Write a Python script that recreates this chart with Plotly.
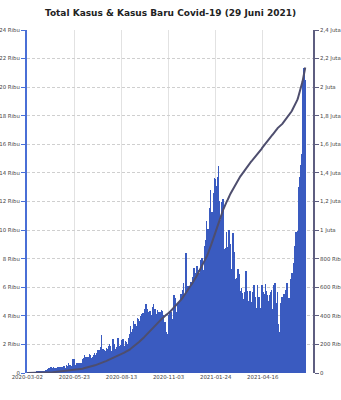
import numpy as np
import pandas as pd
import plotly.graph_objects as go

start_date = "2020-03-02"
daily_mar20 = [2,0,0,0,0,2,2,13,0,7,15,35,27,21,17,38,55,82,60,81,64,65,106,107,104,153,109,130,129,114]
daily_apr20 = [149,113,196,106,181,218,247,218,337,219,330,399,316,282,297,380,407,325,327,185,375,283,357,436,396,275,214,415,260,347]
daily_may20 = [433,292,349,395,484,367,338,336,533,387,233,484,689,568,490,529,489,496,486,693,973,634,949,526,479,415,686,687,678,557,700]
daily_jun20 = [467,609,684,585,703,993,672,847,1043,1241,979,1111,1014,857,1017,1106,1031,1331,1041,1226,862,954,1051,1113,1178,1240,1385,1198,1082,1293]
daily_jul20 = [1385,1624,1301,1447,1607,1209,1268,1853,2657,1611,1671,1681,1282,1591,1522,1574,1462,1752,1639,1693,1655,1882,2040,1761,1868,1492,1525,1748,2381,1904,2040]
daily_aug20 = [1560,1519,1679,1815,1815,1882,2473,2277,1893,1687,1693,1942,2098,2307,2081,2345,1821,1673,1902,2266,2197,2090,2037,1877,2447,2306,2719,2719,3308,2858,2743]
daily_sep20 = [2775,3075,3622,3269,3128,3444,2880,3046,3307,3861,3737,3806,3636,3141,3507,3963,3635,4106,4168,3989,4176,3989,4465,4634,4823,4494,3874,4002,3509,4284]
daily_oct20 = [4174,4317,4007,3992,4056,4602,4538,4850,4094,4497,4497,3267,3906,4127,4411,4301,4301,3373,3602,4069,4267,4432,4369,4070,3732,3222,3520,3565,3143,2897,2696]
daily_nov20 = [2143,2618,2973,4065,4369,4262,4262,3880,2853,3779,3770,5444,5444,5272,3807,3535,3807,4265,4798,4792,4998,4360,4442,4192,5534,4917,5828,5418,6267,4617]
daily_dec20 = [5092,5533,8369,5803,6027,6089,5754,6058,6033,6058,6310,6388,5681,5489,6120,6725,7354,6689,6982,6848,6743,6347,7514,7199,6982,6984,5854,6528,7903,8002,8074]
daily_jan21 = [7585,7203,6877,6753,8854,8367,9321,10617,10046,9640,8692,10047,11278,11557,12818,11287,10624,9086,11287,12568,11703,13632,13589,11788,9994,13094,11948,13695,14518,12001,10994]
daily_feb21 = [9883,10740,11984,11434,10682,12156,10827,8242,8700,8776,8435,9869,8844,6765,6462,10029,9687,9039,8054,7300,6855,6997,9775,9146,8493,8232,5560,6607]
daily_mar21 = [5712,6680,6808,7264,6971,6894,5767,4855,5633,5926,5144,5589,5190,4714,5366,5702,6064,7128,6279,5722,4877,4396,5043,5227,5712,5331,4966,3912,4570,5656,5937]
daily_apr21 = [6142,4913,5324,4127,3965,4549,6177,4685,5325,4844,4101,4071,4582,5656,6177,5656,4690,3621,4952,5549,6243,5720,5436,5372,4402,4656,5017,5241,5444,5657]
daily_may21 = [5783,4512,3737,4369,5285,6130,6294,5656,4891,4208,4608,5647,3448,2633,2385,2860,3080,4871,5059,5296,5303,4916,5520,3361,4952,5797,5907,6278,5862,5235,4824]
daily_jun21 = [4824,5246,5353,6594,6594,6993,6993,6294,7725,8892,8161,8083,9868,8189,8161,9944,12624,12990,12906,13737,14536,13668,15308,20574,18872,21095,21342,20694,20467]

daily_cases = (daily_mar20 + daily_apr20 + daily_may20 + daily_jun20 + daily_jul20 + daily_aug20
               + daily_sep20 + daily_oct20 + daily_nov20 + daily_dec20 + daily_jan21 + daily_feb21
               + daily_mar21 + daily_apr21 + daily_may21 + daily_jun21)
dates = pd.date_range(start_date, periods=len(daily_cases), freq="D")
total_cases = np.cumsum(daily_cases)

x_tick_labels = ["2020-03-02", "2020-05-23", "2020-08-13", "2020-11-03", "2021-01-24", "2021-04-16"]
y_left_vals = [0, 2000, 4000, 6000, 8000, 10000, 12000, 14000, 16000, 18000, 20000, 22000, 24000]
y_left_text = ["0", "2 Ribu", "4 Ribu", "6 Ribu", "8 Ribu", "10 Ribu", "12 Ribu", "14 Ribu",
               "16 Ribu", "18 Ribu", "20 Ribu", "22 Ribu", "24 Ribu"]
y_right_vals = [0, 200000, 400000, 600000, 800000, 1000000, 1200000, 1400000, 1600000,
                1800000, 2000000, 2200000, 2400000]
y_right_text = ["0", "200 Ribu", "400 Ribu", "600 Ribu", "800 Ribu", "1 Juta", "1,2 Juta",
                "1,4 Juta", "1,6 Juta", "1,8 Juta", "2 Juta", "2,2 Juta", "2,4 Juta"]

BAR = "#3a5bc0"
LINE = "#4e4e6e"
TICKFONT = dict(family="DejaVu Sans", size=5.4, color="#444")

fig = go.Figure()
fig.add_trace(go.Bar(x=dates, y=daily_cases, marker=dict(color=BAR, line=dict(width=0)),
                     name="Kasus Baru", yaxis="y"))
fig.add_trace(go.Scatter(x=dates, y=total_cases, mode="lines", line=dict(color=LINE, width=2),
                         name="Total Kasus", yaxis="y2"))

fig.update_layout(
    width=341, height=400,
    margin=dict(l=27, r=28, t=30, b=27),
    paper_bgcolor="white", plot_bgcolor="white",
    showlegend=False, bargap=0,
    title=dict(text="<b>Total Kasus & Kasus Baru Covid-19 (29 Juni 2021)</b>",
               x=0.5, xanchor="center", y=1 - 13/400, yanchor="middle",
               font=dict(family="DejaVu Sans", size=9, color="#222")),
    xaxis=dict(type="date", range=["2020-03-01T12:00", "2021-07-12T12:00"],
               tickvals=x_tick_labels, ticktext=x_tick_labels,
               showgrid=True, gridcolor="#e2e2e2", gridwidth=1,
               showline=False, zeroline=False, ticks="", tickfont=TICKFONT,
               automargin=False),
    yaxis=dict(range=[0, 24000], tickvals=y_left_vals, ticktext=y_left_text,
               showgrid=True, gridcolor="#cfcfcf", griddash="3px,2px", gridwidth=1,
               showline=True, linecolor="#4a6fd6", linewidth=2,
               ticks="outside", ticklen=4, tickcolor="#4a6fd6", tickwidth=1,
               zeroline=False, tickfont=TICKFONT, automargin=False),
    yaxis2=dict(range=[0, 2400000], overlaying="y", side="right",
                tickvals=y_right_vals, ticktext=y_right_text, showgrid=False,
                showline=True, linecolor="#5e5e80", linewidth=2,
                ticks="outside", ticklen=4, tickcolor="#5e5e80", tickwidth=1,
                zeroline=False, tickfont=TICKFONT, automargin=False),
)

fig.write_html("out.html")
